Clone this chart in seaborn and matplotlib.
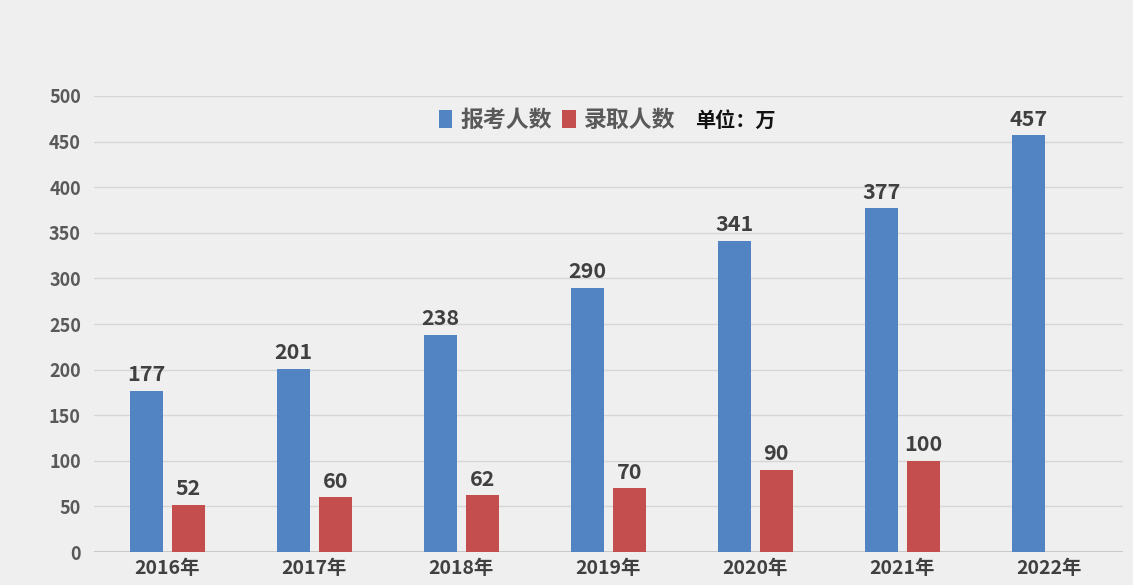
import matplotlib
matplotlib.use("Agg")
import matplotlib.pyplot as plt
import seaborn as sns
import pandas as pd

years = ["2016年", "2017年", "2018年", "2019年", "2020年", "2021年", "2022年"]
applicants = [177, 201, 238, 290, 341, 377, 457]
admitted = [52, 60, 62, 70, 90, 100, None]
series_names = ["报考人数", "录取人数"]
unit_text = "单位：万"
yticks = [0, 50, 100, 150, 200, 250, 300, 350, 400, 450, 500]

rows = []
for y, a, b in zip(years, applicants, admitted):
    rows.append({"year": y, "series": series_names[0], "value": a})
    rows.append({"year": y, "series": series_names[1], "value": b})
df = pd.DataFrame(rows)

sns.set_theme(style="white")
plt.rcParams['font.family'] = ['Noto Sans CJK SC', 'DejaVu Sans']

bg = "#f0eff0"
fig = plt.figure(figsize=(11.33, 5.85), dpi=100, facecolor=bg)
ax = fig.add_axes([0.083, 0.0564, 0.908, 0.7795], facecolor=bg)

palette = {series_names[0]: "#5284c4", series_names[1]: "#c44e4e"}
sns.barplot(data=df, x="year", y="value", hue="series", palette=palette,
            width=0.565, gap=0.2, ax=ax, saturation=1, errorbar=None,
            linewidth=0, edgecolor="none")

for cont in ax.containers:
    labels = ["" if (v != v) else f"{int(v)}" for v in cont.datavalues]
    ax.bar_label(cont, labels=labels, padding=4, fontsize=15.5, fontweight="bold",
                 color="#404040")

ax.set_ylim(0, 500)
ax.set_xlim(-0.5, 6.5)
ax.set_yticks(yticks)
ax.set_yticklabels([str(t) for t in yticks], fontsize=13, fontweight="bold", color="#595959")
ax.tick_params(axis="y", length=0, pad=9.5)
ax.tick_params(axis="x", length=0, pad=5)
ax.set_xticks(range(len(years)))
ax.set_xticklabels(years, fontsize=14, fontweight="bold", color="#404040")
ax.set_xlabel("")
ax.set_ylabel("")
ax.yaxis.grid(True, color="#d6d6d6", linewidth=1)
ax.set_axisbelow(True)
for s in ax.spines.values():
    s.set_visible(False)
ax.axhline(0, color="#bfbfbf", linewidth=1.2, zorder=0.5)

handles, labels = ax.get_legend_handles_labels()
leg = ax.legend(handles, labels, loc="center left", bbox_to_anchor=(0.315, 0.947),
                ncol=2, frameon=False, handlelength=0.6, handleheight=0.85,
                handletextpad=0.35, columnspacing=0.45,
                prop={"family": ['Noto Sans CJK SC'], "weight": "bold", "size": 16.5})
for t in leg.get_texts():
    t.set_color("#595959")
ax.text(0.584, 0.947, unit_text, transform=ax.transAxes, ha="left", va="center",
        fontsize=14.5, fontweight="bold", color="#111111")

fig.savefig("out.png", dpi=100, facecolor=bg)
